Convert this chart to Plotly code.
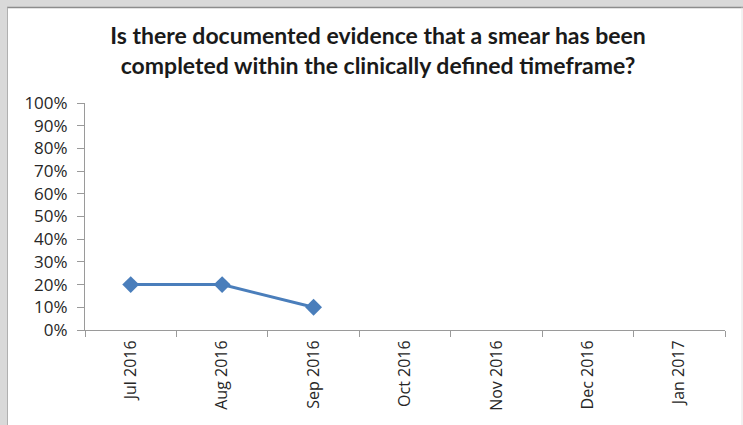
import plotly.graph_objects as go

months = ["Jul 2016", "Aug 2016", "Sep 2016", "Oct 2016", "Nov 2016", "Dec 2016", "Jan 2017"]
compliance = [0.20, 0.20, 0.10, None, None, None, None]
y_ticks = [0, 0.1, 0.2, 0.3, 0.4, 0.5, 0.6, 0.7, 0.8, 0.9, 1.0]
y_tick_labels = [f"{int(round(v * 100))}%" for v in y_ticks]

W, H = 743, 425
ML, MR, MT, MB = 85, 18, 103, 95
PW, PH = W - ML - MR, H - MT - MB


def px_x(p):
    return (p - ML) / PW


def px_y(p):
    return (H - MB - p) / PH


fig = go.Figure()
fig.add_trace(go.Scatter(
    x=months, y=compliance, mode="lines+markers",
    line=dict(color="#4A7EBB", width=3),
    marker=dict(symbol="diamond", size=13, color="#4A7EBB"),
    connectgaps=False, showlegend=False, cliponaxis=False,
))

# window frame: grey strips on the left and top edges
fig.add_shape(type="rect", xref="paper", yref="paper", layer="below",
              x0=px_x(0), x1=px_x(7), y0=px_y(H), y1=px_y(0),
              fillcolor="#D9D9D9", line_width=0)
fig.add_shape(type="rect", xref="paper", yref="paper", layer="below",
              x0=px_x(0), x1=px_x(W), y0=px_y(7), y1=px_y(0),
              fillcolor="#D9D9D9", line_width=0)
fig.add_shape(type="line", xref="paper", yref="paper", layer="below",
              x0=px_x(7), x1=px_x(W), y0=px_y(7.5), y1=px_y(7.5),
              line=dict(color="#8C8C8C", width=1.5))
fig.add_shape(type="line", xref="paper", yref="paper", layer="below",
              x0=px_x(7.5), x1=px_x(7.5), y0=px_y(H), y1=px_y(7.5),
              line=dict(color="#B0B0B0", width=1))
fig.add_shape(type="line", xref="paper", yref="paper", layer="below",
              x0=px_x(742), x1=px_x(742), y0=px_y(H), y1=px_y(7.5),
              line=dict(color="#E4E4E4", width=1))

fig.update_layout(
    width=W, height=H,
    margin=dict(l=ML, r=MR, t=MT, b=MB),
    paper_bgcolor="white", plot_bgcolor="white",
    title=dict(
        text="Is there documented evidence that a smear has been<br>completed within the clinically defined timeframe?",
        x=378 / W, xref="container", xanchor="center",
        y=1 - 44 / H, yanchor="top",
        font=dict(family="Lato", size=23, color="#1A1A1A", weight="bold"),
    ),
    xaxis=dict(
        type="category", categoryorder="array", categoryarray=months,
        range=[-0.5, len(months) - 0.5],
        showline=True, linecolor="#9A9A9A", linewidth=1,
        showgrid=False, zeroline=False,
        ticks="outside", tickson="boundaries", ticklen=6, tickcolor="#9A9A9A",
        tickangle=-90, ticklabelstandoff=3,
        tickfont=dict(family="Open Sans", size=16, color="#262626"),
    ),
    yaxis=dict(
        range=[0, 1], tickvals=y_ticks, ticktext=y_tick_labels,
        showline=True, linecolor="#9A9A9A", linewidth=1,
        showgrid=False, zeroline=False,
        ticks="outside", ticklen=7, tickcolor="#9A9A9A",
        ticklabelstandoff=6,
        tickfont=dict(family="Open Sans", size=17, color="#262626"),
    ),
)

fig.write_html("out.html")
